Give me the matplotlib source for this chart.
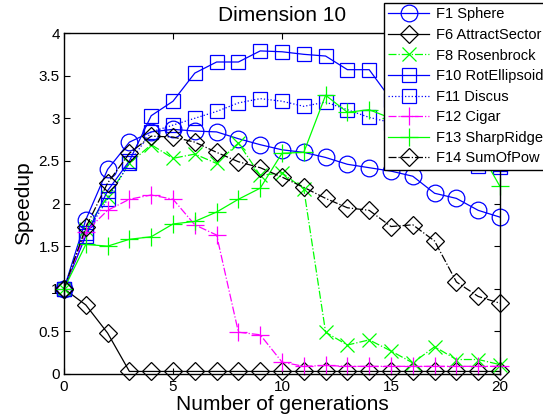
import matplotlib
matplotlib.use("Agg")
import matplotlib.pyplot as plt
import numpy as np

plt.rcParams['font.family'] = ['Liberation Sans', 'DejaVu Sans']

gens = np.arange(0, 21)

f1_sphere = [1.0, 1.81, 2.40, 2.72, 2.84, 2.87, 2.85, 2.84, 2.76, 2.69, 2.63, 2.60, 2.54,
             2.46, 2.42, 2.38, 2.32, 2.12, 2.06, 1.92, 1.84]
f6_attract = [1.0, 0.81, 0.48, 0.03, 0.03, 0.03, 0.03, 0.03, 0.03, 0.03, 0.03, 0.03, 0.03,
              0.03, 0.03, 0.03, 0.03, 0.03, 0.03, 0.03, 0.03]
f8_rosen = [1.0, 1.70, 2.08, 2.47, 2.69, 2.53, 2.58, 2.47, 2.71, 2.33, 2.36, 2.17, 0.49,
            0.34, 0.40, 0.27, 0.13, 0.32, 0.17, 0.17, 0.11]
f10_rotell = [1.0, 1.62, 2.15, 2.50, 3.03, 3.20, 3.53, 3.66, 3.66, 3.79, 3.78, 3.75, 3.73,
              3.57, 3.57, 3.22, 3.00, 2.80, 2.62, 2.47, 2.46]
f11_discus = [1.0, 1.65, 2.05, 2.48, 2.84, 2.92, 3.00, 3.08, 3.18, 3.23, 3.20, 3.14, 3.19,
              3.10, 3.01, 2.95, 2.85, 2.70, 2.55, 2.44, 2.43]
f12_cigar = [1.0, 1.67, 1.92, 2.05, 2.10, 2.05, 1.75, 1.63, 0.49, 0.46, 0.14, 0.09, 0.10,
             0.09, 0.09, 0.09, 0.09, 0.09, 0.09, 0.09, 0.09]
f13_sharp = [1.0, 1.52, 1.50, 1.58, 1.61, 1.76, 1.79, 1.90, 2.05, 2.18, 2.59, 2.60, 3.27,
             3.07, 3.10, 3.00, 2.95, 2.85, 2.75, 2.65, 2.20]
f14_sumpow = [1.0, 1.72, 2.24, 2.59, 2.79, 2.78, 2.72, 2.60, 2.49, 2.42, 2.31, 2.19, 2.06,
              1.95, 1.92, 1.73, 1.75, 1.56, 1.08, 0.91, 0.83]

fig = plt.figure(figsize=(5.43, 4.19), dpi=100)
ax = fig.add_axes([0.1179, 0.1074, 0.8029, 0.8138])

lw = 0.9
mew = 0.9
common = dict(linewidth=lw, markeredgewidth=mew, markerfacecolor='none', clip_on=False)

ax.plot(gens, f1_sphere, '-', color='#0000ff', marker='o', markersize=12,
        label='F1 Sphere', **common)
ax.plot(gens, f6_attract, '-', color='black', marker='D', markersize=9,
        label='F6 AttractSector', **common)
ax.plot(gens, f8_rosen, '-.', color='#00ff00', marker='x', markersize=10,
        label='F8 Rosenbrock', **common)
ax.plot(gens, f10_rotell, '-', color='#0000ff', marker='s', markersize=10,
        label='F10 RotEllipsoid', **common)
ax.plot(gens, f11_discus, ':', color='#0000ff', marker='s', markersize=10,
        label='F11 Discus', **common)
ax.plot(gens, f12_cigar, '-.', color='#ff00ff', marker='+', markersize=13,
        label='F12 Cigar', **common)
ax.plot(gens, f13_sharp, '-', color='#00ff00', marker='+', markersize=13,
        label='F13 SharpRidge', **common)
ax.plot(gens, f14_sumpow, '-.', color='black', marker='D', markersize=9,
        label='F14 SumOfPow', **common)

ax.set_xlim(0, 20)
ax.set_ylim(0, 4)
ax.set_xticks([0, 5, 10, 15, 20])
ax.set_yticks([0, 0.5, 1, 1.5, 2, 2.5, 3, 3.5, 4])
ax.set_yticklabels(['0', '0.5', '1', '1.5', '2', '2.5', '3', '3.5', '4'])
ax.tick_params(direction='in', top=True, right=True, length=4, width=0.8,
               labelsize=11, colors='black')
ax.tick_params(axis='x', pad=4)
ax.tick_params(axis='y', pad=3)
for s in ax.spines.values():
    s.set_linewidth(1.0)

ax.set_title('Dimension 10', fontsize=15, pad=9)
ax.set_xlabel('Number of generations', fontsize=15, labelpad=1)
ax.set_ylabel('Speedup', fontsize=15, labelpad=4)

leg = ax.legend(loc='upper left', bbox_to_anchor=(384 / 543, 1 - 3 / 419),
                bbox_transform=fig.transFigure, fontsize=10.5, frameon=True,
                fancybox=False, edgecolor='black', framealpha=1,
                handlelength=2.8, handletextpad=0.45, labelspacing=0.45,
                borderpad=0.3, borderaxespad=0)
leg.get_frame().set_linewidth(1.0)
leg.set_zorder(5)

fig.savefig('out.png', dpi=100)
